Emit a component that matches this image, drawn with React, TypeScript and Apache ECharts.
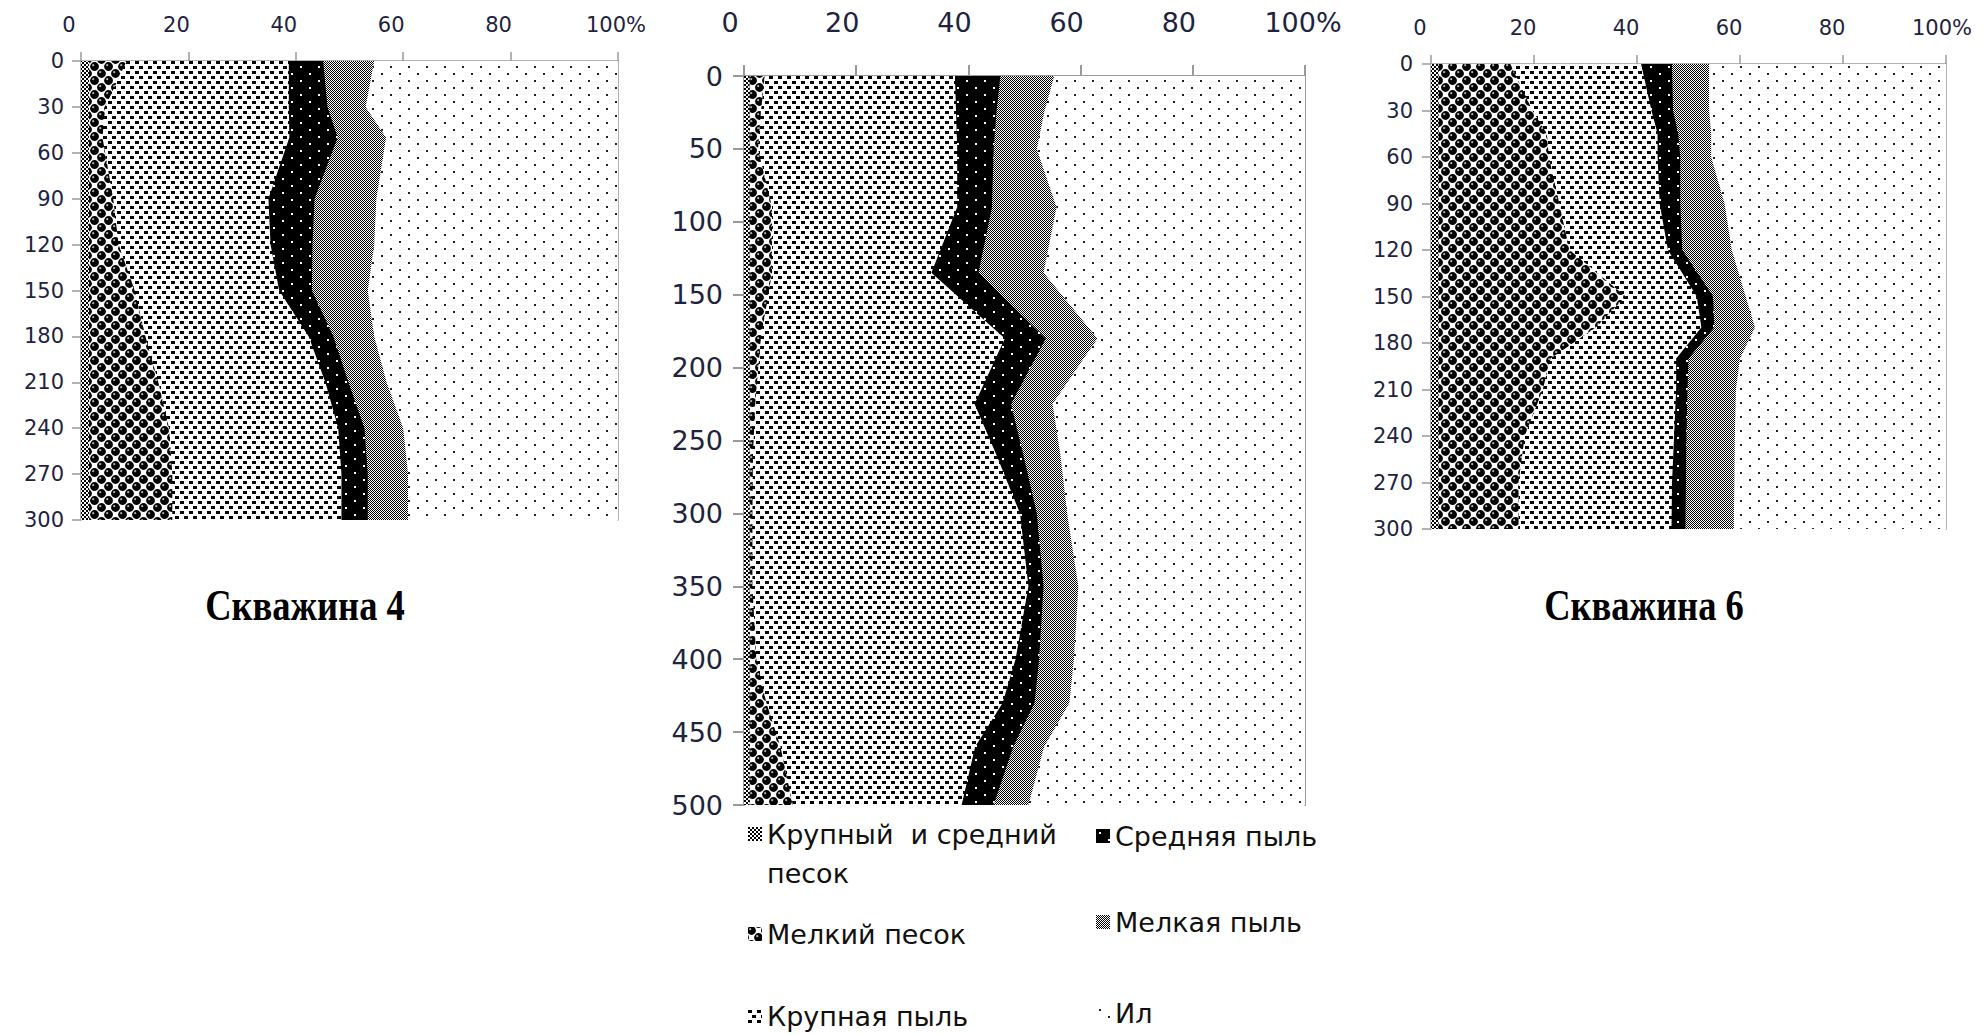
import React, { useEffect, useRef } from 'react';
import * as echarts from 'echarts';

// ---------- data ----------
const LAYER_NAMES = [
  'Крупный и средний песок',
  'Мелкий песок',
  'Крупная пыль',
  'Средняя пыль',
  'Мелкая пыль',
  'Ил',
];

const PERCENT_TICKS = [0, 20, 40, 60, 80, 100];
const WELL_TITLES = ['Скважина 4', '', 'Скважина 6'];

// Скважина 4 (depth, cm; fractions, %)
const depths4 = [0, 30, 50, 90, 120, 150, 180, 210, 240, 270, 300];
const coarseSand4 = [1.5, 1.5, 1.5, 1.5, 1.5, 1.5, 1.5, 1.5, 1.5, 1.5, 1.5];
const fineSand4 = [7.0, 3.0, 2.5, 4.5, 5.5, 8.5, 10.5, 12.9, 14.9, 15.5, 15.5];
const coarseSilt4 = [30.2, 34.2, 34.8, 28.9, 28.3, 26.9, 30.4, 31.1, 31.5, 31.5, 31.5];
const mediumSilt4 = [6.4, 7.2, 9.0, 8.6, 7.8, 6.1, 4.6, 4.3, 4.9, 4.9, 4.9];
const fineSilt4 = [9.5, 7.1, 9.0, 11.5, 11.5, 10.4, 7.6, 7.1, 7.2, 7.5, 7.5];
const clay4 = [45.4, 47.0, 43.2, 45.0, 45.4, 46.6, 45.4, 43.1, 40.0, 39.1, 39.1];

// middle well
const depths5 = [0, 25, 50, 90, 135, 180, 225, 260, 300, 350, 400, 430, 460, 500];
const coarseSand5 = [1, 1, 1, 1, 1, 1, 1, 1, 1, 1, 1, 1, 1, 1];
const fineSand5 = [2.7, 2.0, 1.5, 4.0, 4.0, 2.0, 1.0, 0.6, 0.5, 0.5, 1.2, 3.0, 5.5, 7.7];
const coarseSilt5 = [33.9, 34.8, 35.5, 33.0, 28.4, 43.5, 39.1, 43.4, 47.7, 49.2, 46.2, 42.1, 34.7, 30.1];
const mediumSilt5 = [8.1, 7.2, 6.5, 6.2, 8.4, 7.3, 6.5, 4.8, 3.0, 2.7, 4.2, 5.7, 6.8, 5.7];
const fineSilt5 = [9.6, 8.5, 7.7, 11.5, 11.6, 9.2, 7.4, 6.6, 5.4, 6.2, 6.2, 6.2, 5.5, 6.2];
const clay5 = [44.7, 46.5, 47.8, 44.3, 46.6, 37.0, 45.0, 43.6, 42.4, 40.4, 41.2, 42.0, 46.5, 49.3];

// Скважина 6
const depths6 = [0, 30, 45, 60, 90, 120, 150, 170, 190, 210, 240, 270, 300];
const coarseSand6 = [1.5, 1.5, 1.5, 1.5, 1.5, 1.5, 1.5, 1.5, 1.5, 1.5, 1.5, 1.5, 1.5];
const fineSand6 = [13.9, 18.2, 21.0, 21.4, 23.4, 25.4, 36.3, 30.5, 21.7, 20.2, 16.7, 15.5, 15.5];
const coarseSilt6 = [25.4, 23.1, 21.5, 21.1, 19.5, 19.1, 13.8, 20.5, 24.4, 25.9, 29.0, 29.8, 29.7];
const mediumSilt6 = [6.0, 4.2, 4.0, 4.4, 4.0, 2.8, 3.2, 2.5, 2.4, 2.2, 2.4, 2.7, 2.7];
const fineSilt6 = [7.2, 7.0, 6.4, 6.0, 8.6, 9.6, 6.3, 7.9, 10.0, 9.4, 9.4, 9.4, 9.4];
const clay6 = [46.0, 46.0, 45.6, 45.6, 43.0, 41.6, 38.9, 37.1, 40.0, 40.8, 41.0, 41.1, 41.2];

const DEPTH_TICKS_4 = [0, 30, 60, 90, 120, 150, 180, 210, 240, 270, 300];
const DEPTH_TICKS_5 = [0, 50, 100, 150, 200, 250, 300, 350, 400, 450, 500];
const DEPTH_TICKS_6 = [0, 30, 60, 90, 120, 150, 180, 210, 240, 270, 300];

const WELLS = [
  { depths: depths4, ticks: DEPTH_TICKS_4, layers: [coarseSand4, fineSand4, coarseSilt4, mediumSilt4, fineSilt4, clay4] },
  { depths: depths5, ticks: DEPTH_TICKS_5, layers: [coarseSand5, fineSand5, coarseSilt5, mediumSilt5, fineSilt5, clay5] },
  { depths: depths6, ticks: DEPTH_TICKS_6, layers: [coarseSand6, fineSand6, coarseSilt6, mediumSilt6, fineSilt6, clay6] },
];

// ---------- layout / style ----------
const WELL_LAYOUTS = [
  { grid: { left: 81, top: 61, width: 537, height: 459 }, fontSize: 21, xMargin: 26, yMargin: 17, xShift: 24, xShiftLast: 4, axisWidth: 1.5, tickLen: 9, title: { x: 305, y: 605 } },
  { grid: { left: 744, top: 76, width: 561, height: 729 }, fontSize: 27, xMargin: 40, yMargin: 21, xShift: 28, xShiftLast: 4, axisWidth: 2, tickLen: 11, title: null },
  { grid: { left: 1431, top: 64, width: 515, height: 465 }, fontSize: 21, xMargin: 26, yMargin: 18, xShift: 22, xShiftLast: 8, axisWidth: 1.5, tickLen: 9, title: { x: 1644, y: 605 } },
];

const LEGEND_SPOTS = [
  { layer: 0, left: 748, centerY: 834, wrap: true },
  { layer: 1, left: 748, centerY: 934, wrap: false },
  { layer: 2, left: 748, centerY: 1016, wrap: false },
  { layer: 3, left: 1096, centerY: 836, wrap: false },
  { layer: 4, left: 1096, centerY: 922, wrap: false },
  { layer: 5, left: 1096, centerY: 1013, wrap: false },
];

const AXIS_COLOR = '#9a9a9a';
const LABEL_COLOR = '#1e2440';
const FONT = 'DejaVu Sans';

function makePattern(w: number, h: number, draw: (ctx: CanvasRenderingContext2D) => void) {
  const c = document.createElement('canvas');
  c.width = w;
  c.height = h;
  const ctx = c.getContext('2d') as CanvasRenderingContext2D;
  draw(ctx);
  return { image: c.toDataURL('image/png'), repeat: 'repeat', imageWidth: w, imageHeight: h };
}

function buildPatterns() {
  const coarseSand = makePattern(4, 4, (ctx) => {
    ctx.fillStyle = '#fff';
    ctx.fillRect(0, 0, 4, 4);
    ctx.fillStyle = '#000';
    ctx.fillRect(0, 0, 2, 2);
    ctx.fillRect(2, 2, 2, 2);
  });
  const fineSand = makePattern(14, 14, (ctx) => {
    ctx.fillStyle = '#fff';
    ctx.fillRect(0, 0, 14, 14);
    const centers = [[3.5, 3.5], [10.5, 10.5]];
    for (const [cx, cy] of centers) {
      for (const dx of [-14, 0, 14]) {
        for (const dy of [-14, 0, 14]) {
          ctx.fillStyle = '#000';
          ctx.beginPath();
          ctx.arc(cx + dx, cy + dy, 4.4, 0, Math.PI * 2);
          ctx.fill();
          ctx.fillStyle = '#b0b0b0';
          ctx.beginPath();
          ctx.arc(cx + dx - 1.3, cy + dy - 1.3, 1.1, 0, Math.PI * 2);
          ctx.fill();
        }
      }
    }
  });
  const coarseSilt = makePattern(9, 10, (ctx) => {
    ctx.fillStyle = '#fff';
    ctx.fillRect(0, 0, 9, 10);
    ctx.fillStyle = '#000';
    const rects = [[0, 1], [4, 6]];
    for (const [x, y] of rects) {
      for (const dx of [-9, 0, 9]) ctx.fillRect(x + dx, y, 4, 3);
    }
  });
  const mediumSilt = makePattern(18, 14, (ctx) => {
    ctx.fillStyle = '#000';
    ctx.fillRect(0, 0, 18, 14);
    ctx.fillStyle = '#fff';
    ctx.fillRect(3, 3, 2, 2);
    ctx.fillRect(12, 10, 2, 2);
  });
  const fineSilt = makePattern(2, 2, (ctx) => {
    ctx.fillStyle = '#fff';
    ctx.fillRect(0, 0, 2, 2);
    ctx.fillStyle = '#000';
    ctx.fillRect(0, 0, 1, 1);
    ctx.fillRect(1, 1, 1, 1);
  });
  const clay = makePattern(18, 14, (ctx) => {
    ctx.fillStyle = '#fff';
    ctx.fillRect(0, 0, 18, 14);
    ctx.fillStyle = '#222';
    ctx.fillRect(3, 3, 2, 2);
    ctx.fillRect(12, 10, 2, 2);
  });
  return [coarseSand, fineSand, coarseSilt, mediumSilt, fineSilt, clay];
}

export default function App() {
  const ref = useRef<HTMLDivElement>(null);

  useEffect(() => {
    document.body.style.margin = '0';
    const chart = echarts.init(ref.current as HTMLDivElement, null, { renderer: 'svg' });
    const patterns = buildPatterns();

    const grids: any[] = [];
    const xAxes: any[] = [];
    const yAxes: any[] = [];
    const series: any[] = [];
    const graphics: any[] = [];

    WELLS.forEach((well, g) => {
      const L = WELL_LAYOUTS[g];
      const maxDepth = well.ticks[well.ticks.length - 1];
      const depthStep = well.ticks[1] - well.ticks[0];
      grids.push({ ...L.grid, containLabel: false, outerBoundsMode: 'none' });

      const lineStyle = { color: AXIS_COLOR, width: L.axisWidth };
      xAxes.push({
        type: 'value',
        gridIndex: g,
        position: 'top',
        min: PERCENT_TICKS[0],
        max: PERCENT_TICKS[PERCENT_TICKS.length - 1],
        interval: PERCENT_TICKS[1] - PERCENT_TICKS[0],
        axisLine: { show: true, lineStyle },
        axisTick: { show: true, inside: false, length: L.tickLen, lineStyle },
        splitLine: { show: false },
        axisLabel: {
          show: true,
          showMinLabel: true,
          showMaxLabel: true,
          margin: L.xMargin,
          fontSize: L.fontSize,
          fontFamily: FONT,
          color: LABEL_COLOR,
          formatter: (v: number) => (v === 100 ? '{last|100%}' : `{n|${v}}`),
          rich: {
            n: { fontSize: L.fontSize, fontFamily: FONT, color: LABEL_COLOR, padding: [0, L.xShift, 0, 0] },
            last: { fontSize: L.fontSize, fontFamily: FONT, color: LABEL_COLOR, padding: [0, L.xShiftLast, 0, 0] },
          },
        },
      });
      yAxes.push({
        type: 'value',
        gridIndex: g,
        position: 'left',
        inverse: true,
        min: 0,
        max: maxDepth,
        interval: depthStep,
        axisLine: { show: true, lineStyle },
        axisTick: { show: true, inside: false, length: L.tickLen, lineStyle },
        splitLine: { show: false },
        axisLabel: {
          show: true,
          showMinLabel: true,
          showMaxLabel: true,
          margin: L.yMargin,
          fontSize: L.fontSize,
          fontFamily: FONT,
          color: LABEL_COLOR,
        },
      });
      yAxes.push({
        type: 'value',
        gridIndex: g,
        position: 'right',
        inverse: true,
        min: 0,
        max: maxDepth,
        interval: depthStep,
        axisLine: { show: true, lineStyle },
        axisTick: { show: false },
        axisLabel: { show: false },
        splitLine: { show: false },
      });

      // cumulative edges of stacked layers
      const cum: number[][] = [];
      let running = well.depths.map(() => 0);
      well.layers.forEach((layer) => {
        running = running.map((v, i) => v + layer[i]);
        cum.push(running);
      });

      const depths = well.depths;
      for (let k = well.layers.length - 1; k >= 0; k--) {
        const edge = cum[k].map((v) => Math.min(v, 100));
        const fill = patterns[k];
        series.push({
          type: 'custom',
          name: LAYER_NAMES[k],
          coordinateSystem: 'cartesian2d',
          xAxisIndex: g,
          yAxisIndex: 2 * g,
          data: depths.map((d, i) => [edge[i], d]),
          encode: { x: 0, y: 1 },
          itemStyle: { color: fill },
          silent: true,
          clip: true,
          renderItem: (params: any, api: any) => {
            if (params.dataIndex !== 0) return null;
            const pts: number[][] = [api.coord([0, depths[0]])];
            depths.forEach((d, i) => pts.push(api.coord([edge[i], d])));
            pts.push(api.coord([0, depths[depths.length - 1]]));
            return { type: 'polygon', shape: { points: pts }, style: { fill, stroke: 'none' } };
          },
        });
      }

      if (L.title && WELL_TITLES[g]) {
        graphics.push({
          type: 'text',
          x: L.title.x,
          y: L.title.y,
          scaleX: 0.83,
          style: {
            text: WELL_TITLES[g],
            font: 'bold 44px "Liberation Serif"',
            fill: '#000',
            textAlign: 'center',
            textVerticalAlign: 'middle',
            align: 'center',
            verticalAlign: 'middle',
          },
        });
      }
    });

    const legends = LEGEND_SPOTS.map((s) => {
      const lh = s.wrap ? 39 : 30;
      const top = s.wrap ? s.centerY - lh * 1.5 : s.centerY - lh / 2;
      return {
        data: [LAYER_NAMES[s.layer]],
        left: s.left,
        top,
        orient: 'horizontal',
        padding: 0,
        itemWidth: 14,
        itemHeight: 14,
        itemGap: 0,
        icon: 'rect',
        selectedMode: false,
        formatter: (name: string) => (s.wrap ? '\nКрупный  и средний\nпесок' : name),
        textStyle: {
          fontSize: 27,
          fontFamily: FONT,
          color: '#111',
          lineHeight: lh,
        },
      };
    });

    chart.setOption({
      animation: false,
      backgroundColor: '#fff',
      grid: grids,
      xAxis: xAxes,
      yAxis: yAxes,
      legend: legends,
      series,
      graphic: graphics,
    });

    return () => chart.dispose();
  }, []);

  return <div ref={ref} style={{ width: 1984, height: 1034 }} />;
}
